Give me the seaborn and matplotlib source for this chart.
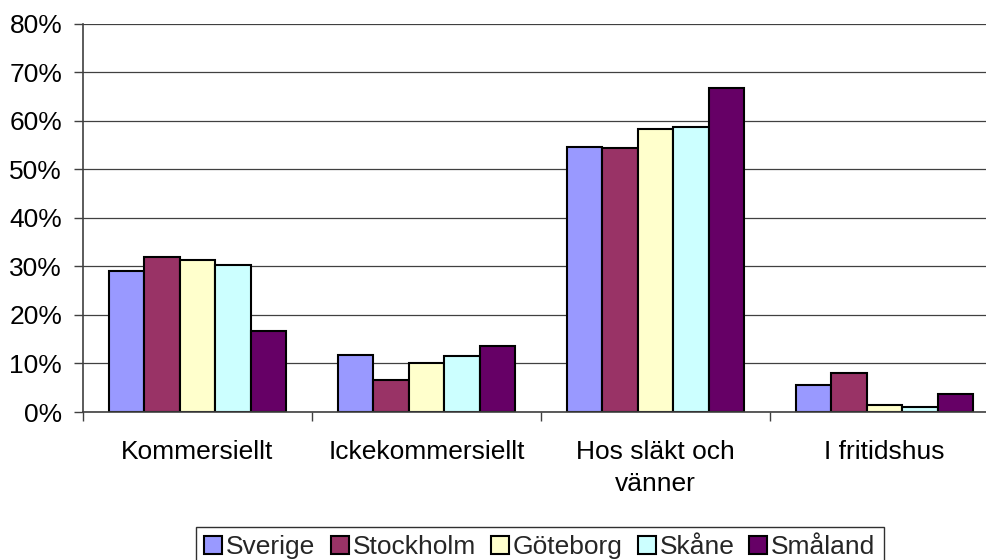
import matplotlib
matplotlib.use("Agg")
import matplotlib.pyplot as plt
from matplotlib.ticker import PercentFormatter, FixedLocator
import seaborn as sns
import pandas as pd

# Where people stayed overnight, share per region
categories = ["Kommersiellt", "Ickekommersiellt", "Hos släkt och\nvänner", "I fritidshus"]
regions = ["Sverige", "Stockholm", "Göteborg", "Skåne", "Småland"]
sverige = [0.290, 0.117, 0.546, 0.056]
stockholm = [0.320, 0.066, 0.544, 0.080]
goteborg = [0.313, 0.101, 0.583, 0.014]
skane = [0.302, 0.116, 0.588, 0.011]
smaland = [0.167, 0.136, 0.667, 0.037]
colors = ["#9999FF", "#993366", "#FFFFCC", "#CCFFFF", "#660066"]
yticks = [0.0, 0.1, 0.2, 0.3, 0.4, 0.5, 0.6, 0.7, 0.8]

series = [sverige, stockholm, goteborg, skane, smaland]
df = pd.DataFrame({
    "kategori": [c for _ in regions for c in categories],
    "region": [r for r in regions for _ in categories],
    "andel": [v for s in series for v in s],
})

sns.set_theme(style="white")
plt.rcParams["font.family"] = ["Liberation Sans", "DejaVu Sans"]
FS = 19

fig = plt.figure(figsize=(9.86, 5.6), dpi=100)
ax = fig.add_axes([83 / 986, 1 - 412 / 560, 916 / 986, 388.3 / 560])

sns.barplot(data=df, x="kategori", y="andel", hue="region", order=categories,
            hue_order=regions, palette=colors, saturation=1, width=0.775,
            edgecolor="black", linewidth=1.5, ax=ax)

ax.set_xlim(-0.5, len(categories) - 0.5)
ax.set_ylim(0, 0.8)
ax.yaxis.set_major_locator(FixedLocator(yticks))
ax.yaxis.set_major_formatter(PercentFormatter(1.0, decimals=0))
ax.grid(axis="y", color="#404040", linewidth=0.9)
ax.set_axisbelow(True)
ax.set_xlabel("")
ax.set_ylabel("")

for side in ["top", "right"]:
    ax.spines[side].set_visible(False)
for side in ["left", "bottom"]:
    ax.spines[side].set_color("#404040")
    ax.spines[side].set_linewidth(1.2)

ax.tick_params(axis="y", which="major", left=True, length=6.5, width=1.0,
               color="#404040", pad=8.5, labelsize=FS, labelcolor="black")
# category labels sit between the boundary ticks
ax.set_xticks(range(len(categories)))
ax.set_xticklabels(categories, fontsize=FS, color="black", linespacing=1.45)
ax.set_xticks([i - 0.5 for i in range(len(categories) + 1)], minor=True)
ax.tick_params(axis="x", which="major", bottom=True, length=0, pad=20)
ax.tick_params(axis="x", which="minor", bottom=True, length=6.5, width=1.0,
               color="#404040")

leg = ax.get_legend()
handles = leg.legend_handles
labels = [t.get_text() for t in leg.get_texts()]
leg.remove()
for h in handles:
    h.set_edgecolor("black")
    h.set_linewidth(1.5)
fig.legend(handles, labels, loc="upper center",
           bbox_to_anchor=(540 / 986, 1 - 527 / 560), ncol=5, fontsize=FS,
           frameon=True, fancybox=False, edgecolor="#303030", framealpha=1,
           handlelength=0.68, handleheight=0.68, handletextpad=0.15,
           columnspacing=0.57, borderpad=0.3, borderaxespad=0)
fig.legends[0].get_frame().set_linewidth(1.0)

fig.savefig("out.png", dpi=100)
